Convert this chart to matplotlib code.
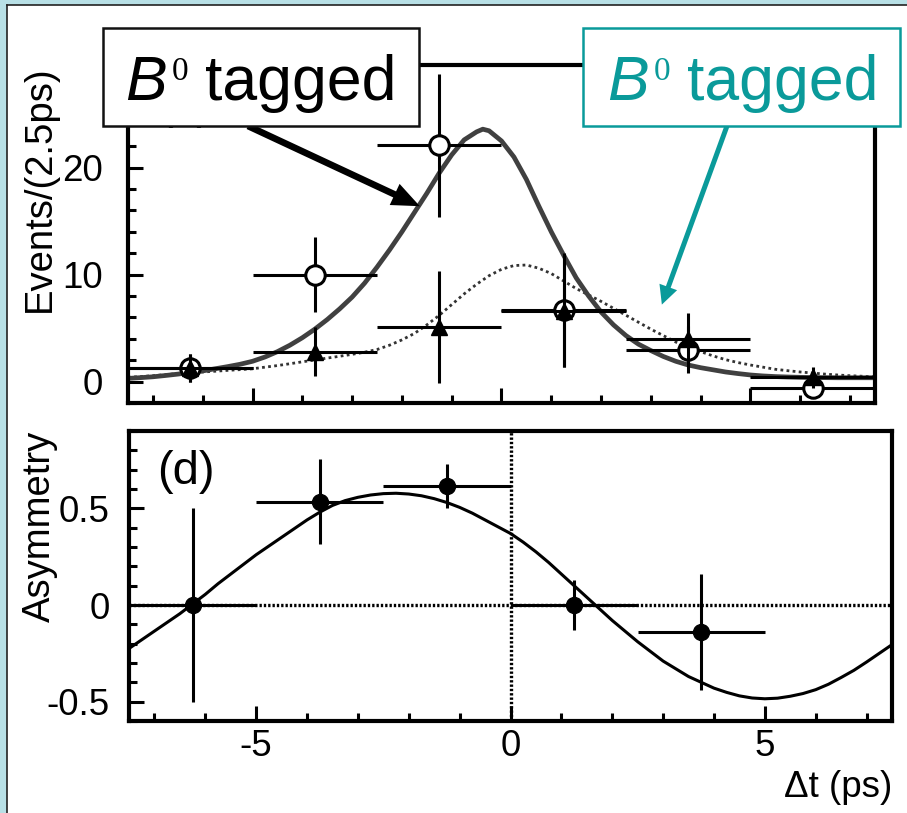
import matplotlib

matplotlib.use("Agg")
import matplotlib.pyplot as plt
from matplotlib.patches import Rectangle
from matplotlib.lines import Line2D
from matplotlib.ticker import MultipleLocator, FixedLocator, FixedFormatter

plt.rcParams['font.family'] = ['Liberation Sans', 'DejaVu Sans']
plt.rcParams['axes.unicode_minus'] = False

# --- upper panel (c): events per 2.5 ps bin ---
bin_centers = [-6.25, -3.75, -1.25, 1.25, 3.75, 6.25]
bin_half_width = 1.25
open_counts = [1.3, 10.0, 22.1, 6.7, 3.0, -0.6]
open_errors = [1.3, 3.5, 6.7, 5.3, 2.2, 0.6]
tri_counts = [1.25, 2.8, 5.1, 6.6, 4.0, 0.4]
tri_errors = [1.3, 2.3, 5.2, 5.2, 2.4, 1.0]

# fitted distributions (solid and dotted), sampled every 0.25 ps
fit_t = [-7.5, -7.25, -7.0, -6.75, -6.5, -6.25, -6.0, -5.75, -5.5, -5.25,
         -5.0, -4.75, -4.5, -4.25, -4.0, -3.75, -3.5, -3.25, -3.0, -2.75,
         -2.5, -2.25, -2.0, -1.75, -1.5, -1.25, -1.0, -0.75, -0.5, -0.375,
         -0.25, 0.0, 0.25, 0.5, 0.75, 1.0, 1.25, 1.5, 1.75, 2.0,
         2.25, 2.5, 2.75, 3.0, 3.25, 3.5, 3.75, 4.0, 4.25, 4.5,
         4.75, 5.0, 5.25, 5.5, 5.75, 6.0, 6.25, 6.5, 6.75, 7.0,
         7.25, 7.5]
fit_solid = [0.3, 0.37, 0.45, 0.57, 0.7, 0.85, 1.0, 1.2, 1.4, 1.62,
             1.9, 2.3, 2.8, 3.4, 4.1, 4.9, 5.8, 6.8, 7.9, 9.2,
             10.7, 12.3, 14.0, 15.8, 17.6, 19.5, 21.2, 22.6, 23.35, 23.6,
             23.45, 22.5, 21.0, 18.9, 16.4, 14.0, 11.8, 9.7, 8.0, 6.5,
             5.3, 4.3, 3.5, 2.9, 2.35, 1.9, 1.55, 1.3, 1.1, 0.9,
             0.75, 0.62, 0.53, 0.47, 0.43, 0.4, 0.38, 0.37, 0.36, 0.36,
             0.36, 0.36]
fit_dotted = [0.4, 0.47, 0.55, 0.65, 0.75, 0.83, 0.9, 0.97, 1.05, 1.12,
              1.2, 1.35, 1.5, 1.67, 1.85, 2.02, 2.2, 2.37, 2.55, 2.75,
              3.0, 3.4, 3.9, 4.5, 5.3, 6.2, 7.2, 8.2, 9.1, 9.5,
              9.9, 10.5, 10.85, 10.9, 10.6, 10.1, 9.4, 8.7, 8.1, 7.5,
              6.85, 6.2, 5.55, 4.9, 4.3, 3.7, 3.2, 2.8, 2.4, 2.05,
              1.78, 1.55, 1.35, 1.15, 1.02, 0.9, 0.8, 0.7, 0.62, 0.55,
              0.5, 0.45]

# --- lower panel (d): asymmetry ---
asym_centers = [-6.25, -3.75, -1.25, 1.25, 3.75]
asym_values = [0.0, 0.535, 0.615, 0.0, -0.14]
asym_errors = [0.5, 0.22, 0.115, 0.13, 0.30]

asym_t = [-7.5, -7.25, -7.0, -6.75, -6.5, -6.25, -6.0, -5.75, -5.5, -5.25,
          -5.0, -4.75, -4.5, -4.25, -4.0, -3.75, -3.5, -3.25, -3.0, -2.75,
          -2.5, -2.25, -2.0, -1.75, -1.5, -1.25, -1.0, -0.75, -0.5, -0.25,
          0.0, 0.25, 0.5, 0.75, 1.0, 1.25, 1.5, 1.75, 2.0, 2.25,
          2.5, 2.75, 3.0, 3.25, 3.5, 3.75, 4.0, 4.25, 4.5, 4.75,
          5.0, 5.25, 5.5, 5.75, 6.0, 6.25, 6.5, 6.75, 7.0, 7.25,
          7.5]
asym_fit = [-0.225, -0.18, -0.135, -0.09, -0.045, 0.005, 0.055, 0.11, 0.16, 0.21,
            0.26, 0.305, 0.35, 0.395, 0.44, 0.48, 0.515, 0.54, 0.557, 0.569,
            0.576, 0.578, 0.574, 0.565, 0.55, 0.53, 0.505, 0.475, 0.44, 0.405,
            0.37, 0.325, 0.275, 0.22, 0.16, 0.1, 0.04, -0.02, -0.08, -0.135,
            -0.19, -0.24, -0.29, -0.33, -0.37, -0.4, -0.43, -0.452, -0.47, -0.481,
            -0.485, -0.482, -0.472, -0.458, -0.438, -0.41, -0.375, -0.338, -0.295, -0.25,
            -0.205]

events_ticks = [0, 10, 20]
events_ticklabels = ['0', '10', '20']
asym_ticks = [-0.5, 0, 0.5]
asym_ticklabels = ['-0.5', '0', '0.5']
t_ticks = [-5, 0, 5]
t_ticklabels = ['-5', '0', '5']

teal = '#0a9a9a'
W, H = 907, 813

fig = plt.figure(figsize=(W / 100, H / 100), dpi=100)
fig.patch.set_facecolor('#b8e0e6')

# white slide area with a thin dark edge on top and left
fig.add_artist(Rectangle((7 / W, 0), 1 - 7 / W, 1 - 5 / H, transform=fig.transFigure,
                         facecolor='white', edgecolor='none', zorder=-1))
fig.add_artist(Line2D([7 / W, 1], [1 - 5 / H] * 2, color='#222222', lw=1.2))
fig.add_artist(Line2D([7 / W] * 2, [0, 1 - 5 / H], color='#222222', lw=1.2))


def style_axes(ax):
    ax.set_facecolor('none')
    for sp in ax.spines.values():
        sp.set_linewidth(3)
    ax.tick_params(which='both', direction='in', top=False, right=False, width=2.2,
                   labelsize=26.5, colors='black')
    ax.tick_params(which='major', length=11)
    ax.tick_params(which='minor', length=6)


def tag_label(x0, color):
    # "B" italic, a small upright serif "0", then "tagged"; x0 in pixels
    fig.text(x0 / W, 1 - 100 / H, 'B', fontsize=45, fontstyle='italic', color=color,
             ha='left', va='baseline', zorder=6)
    fig.text((x0 + 47) / W, 1 - 80 / H, '0', fontsize=24, family='Liberation Serif',
             color=color, ha='left', va='baseline', zorder=6)
    fig.text((x0 + 80) / W, 1 - 100 / H, 'tagged', fontsize=45, color=color,
             ha='left', va='baseline', zorder=6)


ax1 = fig.add_axes([128 / W, 1 - 403 / H, 747 / W, 338 / H])
ax2 = fig.add_axes([129 / W, 1 - 721 / H, 763 / W, 290 / H])

# upper panel
ax1.plot(fit_t, fit_dotted, color='#333333', lw=2, ls=(0, (1, 1.2)), zorder=2)
ax1.plot(fit_t, fit_solid, color='#404040', lw=3.4, zorder=2)
ax1.errorbar(bin_centers, open_counts, xerr=bin_half_width, yerr=open_errors, fmt='o',
             ms=14, mfc='white', mec='black', mew=2.2, ecolor='black', elinewidth=2.2,
             capsize=0, zorder=3)
ax1.errorbar(bin_centers, tri_counts, xerr=bin_half_width, yerr=tri_errors, fmt='^',
             ms=11, mfc='black', mec='black', ecolor='black', elinewidth=2.2,
             capsize=0, zorder=4)
ax1.set_xlim(-7.5, 7.5)
ax1.set_ylim(-2, 29.6)
style_axes(ax1)
ax1.xaxis.set_major_locator(FixedLocator(t_ticks))
ax1.xaxis.set_minor_locator(MultipleLocator(1))
ax1.set_xticklabels([])
ax1.yaxis.set_major_locator(FixedLocator(events_ticks))
ax1.yaxis.set_major_formatter(FixedFormatter(events_ticklabels))
ax1.yaxis.set_minor_locator(MultipleLocator(2))
ax1.tick_params(axis='y', pad=18)
ax1.set_ylabel('Events/(2.5ps)', fontsize=27.5, loc='top')
ax1.yaxis.set_label_coords(-0.094, 1.0)
# panel letter, mostly covered by the tag box
ax1.text(0.039, 0.944, '(c)', transform=ax1.transAxes, fontsize=34, va='top', ha='left')

# lower panel
ax2.axhline(0, color='black', lw=2.4, ls=(0, (0.7, 0.6)), zorder=1)
ax2.axvline(0, color='black', lw=2.4, ls=(0, (0.7, 0.6)), zorder=1)
ax2.plot(asym_t, asym_fit, color='black', lw=2.2, zorder=2)
ax2.errorbar(asym_centers, asym_values, xerr=bin_half_width, yerr=asym_errors, fmt='o',
             ms=11.5, mfc='black', mec='black', ecolor='black', elinewidth=2.2,
             capsize=0, zorder=3)
ax2.set_xlim(-7.5, 7.5)
ax2.set_ylim(-0.6, 0.9)
style_axes(ax2)
ax2.xaxis.set_major_locator(FixedLocator(t_ticks))
ax2.xaxis.set_major_formatter(FixedFormatter(t_ticklabels))
ax2.xaxis.set_minor_locator(MultipleLocator(1))
ax2.yaxis.set_major_locator(FixedLocator(asym_ticks))
ax2.yaxis.set_major_formatter(FixedFormatter(asym_ticklabels))
ax2.yaxis.set_minor_locator(MultipleLocator(0.1))
ax2.tick_params(axis='y', pad=14)
ax2.tick_params(axis='x', pad=6)
ax2.set_ylabel('Asymmetry', fontsize=27.5, loc='top')
ax2.yaxis.set_label_coords(-0.093, 1.0)
ax2.set_xlabel('\u0394t (ps)', fontsize=26.5, loc='right')
ax2.text(0.037, 0.934, '(d)', transform=ax2.transAxes, fontsize=34, va='top', ha='left')

# tag labels in boxes, with arrows pointing at the curves
fig.add_artist(Rectangle((103 / W, 1 - 126 / H), 316 / W, 98 / H, transform=fig.transFigure,
                         facecolor='white', edgecolor='#111111', lw=1.8, zorder=5))
tag_label(125, 'black')
fig.add_artist(Rectangle((583 / W, 1 - 126 / H), 317 / W, 98 / H, transform=fig.transFigure,
                         facecolor='white', edgecolor=teal, lw=1.8, zorder=5))
tag_label(607, teal)

ax1.annotate('', xy=(-1.64, 16.4), xycoords='data',
             xytext=(248 / W, 1 - 126 / H), textcoords='figure fraction',
             arrowprops=dict(arrowstyle='simple,head_length=0.5,head_width=0.42,tail_width=0.12',
                             mutation_scale=40, fc='black', ec='none', lw=0,
                             shrinkA=0, shrinkB=0), zorder=10)
ax1.annotate('', xy=(3.22, 7.2), xycoords='data',
             xytext=(727 / W, 1 - 126 / H), textcoords='figure fraction',
             arrowprops=dict(arrowstyle='simple,head_length=0.45,head_width=0.45,tail_width=0.12',
                             mutation_scale=30, fc=teal, ec='none', lw=0,
                             shrinkA=0, shrinkB=0), zorder=10)

fig.savefig('out.png', dpi=100, facecolor=fig.get_facecolor())
